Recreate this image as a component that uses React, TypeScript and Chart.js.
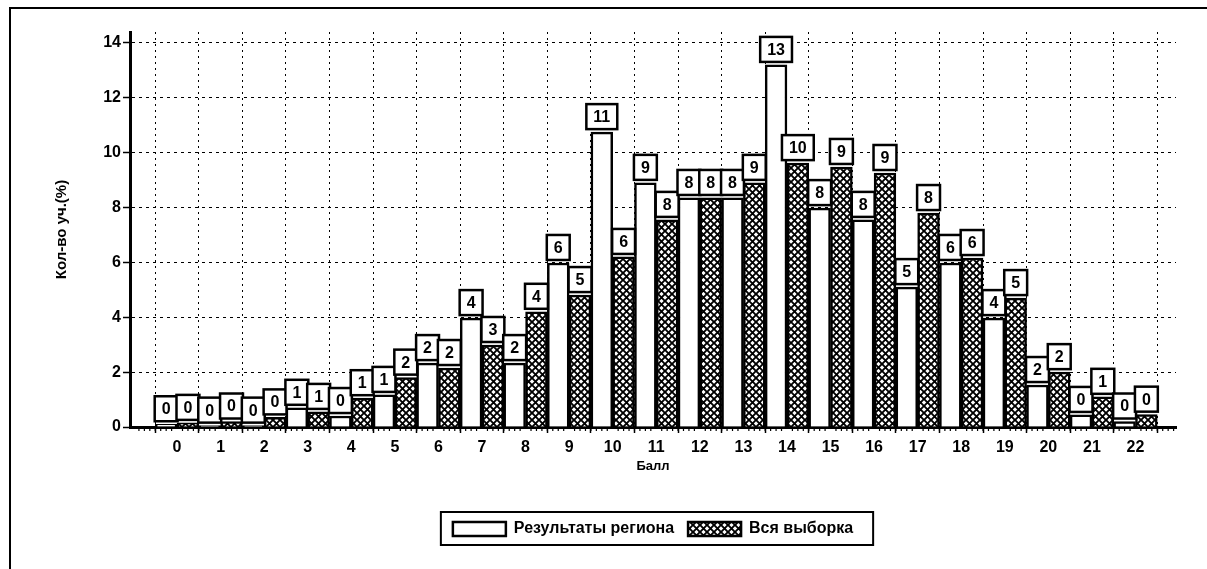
import React, { useEffect, useRef } from 'react';
import { Chart, registerables } from 'chart.js';

Chart.register(...registerables);

// ---- data ----
const categories = [0, 1, 2, 3, 4, 5, 6, 7, 8, 9, 10, 11, 12, 13, 14, 15, 16, 17, 18, 19, 20, 21, 22];
const regionValues = [0.1, 0.05, 0.05, 0.7, 0.4, 1.17, 2.33, 3.97, 2.33, 5.98, 10.75, 8.9, 8.35, 8.35, 13.2, 7.98, 7.55, 5.1, 5.98, 3.97, 1.53, 0.44, 0.2];
const sampleValues = [0.15, 0.2, 0.35, 0.55, 1.05, 1.8, 2.15, 2.99, 4.2, 4.81, 6.2, 7.55, 8.35, 8.9, 9.62, 9.48, 9.26, 7.8, 6.16, 4.7, 2.0, 1.1, 0.45];
const yTicks = [0, 2, 4, 6, 8, 10, 12, 14];
const seriesNames = ['Результаты региона', 'Вся выборка'];
const xTitle = 'Балл';
const yTitle = 'Кол-во уч.(%)';

const SANS = "'Liberation Sans', Arial, sans-serif";

function makeHatch(): CanvasPattern | string {
  const c = document.createElement('canvas');
  c.width = 7;
  c.height = 7;
  const g = c.getContext('2d');
  if (!g) return '#888';
  g.fillStyle = '#fff';
  g.fillRect(0, 0, 7, 7);
  g.strokeStyle = '#000';
  g.lineWidth = 1.9;
  g.beginPath();
  g.moveTo(-1, -1);
  g.lineTo(8, 8);
  g.moveTo(8, -1);
  g.lineTo(-1, 8);
  g.stroke();
  return g.createPattern(c, 'repeat') || '#888';
}

const framePlugin = {
  id: 'pageFrame',
  afterDraw(chart: any) {
    const ctx = chart.ctx;
    ctx.save();
    ctx.strokeStyle = '#000';
    ctx.lineWidth = 2;
    ctx.beginPath();
    ctx.moveTo(10, chart.height);
    ctx.lineTo(10, 8);
    ctx.lineTo(chart.width, 8);
    ctx.stroke();
    ctx.restore();
  },
};

const minorTicksPlugin = {
  id: 'minorTicks',
  afterDraw(chart: any) {
    const xs = chart.scales.x;
    const ctx = chart.ctx;
    const yAxis = chart.chartArea.bottom;
    ctx.save();
    ctx.strokeStyle = '#000';
    ctx.lineWidth = 1.2;
    ctx.beginPath();
    const start = Math.ceil(xs.min * 8);
    const end = Math.floor(xs.max * 8);
    for (let k = start; k <= end; k++) {
      if (k % 8 === 0) continue;
      const px = xs.getPixelForValue(k / 8);
      ctx.moveTo(px, yAxis);
      ctx.lineTo(px, yAxis + 4);
    }
    ctx.stroke();
    ctx.restore();
  },
};

const valueBoxPlugin = {
  id: 'valueBoxes',
  afterDatasetsDraw(chart: any) {
    const ctx = chart.ctx;
    const items: { x: number; y: number; text: string }[] = [];
    chart.data.datasets.forEach((ds: any, di: number) => {
      const meta = chart.getDatasetMeta(di);
      meta.data.forEach((el: any, i: number) => {
        items.push({ x: el.x, y: el.y, text: String(Math.round(ds.data[i].y)) });
      });
    });
    items.sort((a, b) => a.x - b.x);
    ctx.save();
    ctx.font = `bold 16px ${SANS}`;
    ctx.textAlign = 'center';
    ctx.textBaseline = 'middle';
    items.forEach((it) => {
      const w = ctx.measureText(it.text).width + 14;
      const h = 25;
      const bottom = it.y - 3;
      const top = bottom - h;
      ctx.fillStyle = '#fff';
      ctx.fillRect(it.x - w / 2, top, w, h);
      ctx.strokeStyle = '#000';
      ctx.lineWidth = 2.5;
      ctx.strokeRect(it.x - w / 2, top, w, h);
      ctx.fillStyle = '#000';
      ctx.fillText(it.text, it.x, top + h / 2 + 1);
    });
    ctx.restore();
  },
};

const legendFramePlugin = {
  id: 'legendFrame',
  afterDraw(chart: any) {
    const lg = chart.legend;
    if (!lg || !lg.legendHitBoxes || !lg.legendHitBoxes.length) return;
    const hb = lg.legendHitBoxes;
    const left = Math.min(...hb.map((h: any) => h.left)) - 12;
    const right = Math.max(...hb.map((h: any) => h.left + h.width)) + 20;
    const top = Math.min(...hb.map((h: any) => h.top)) - 9;
    const bottom = Math.max(...hb.map((h: any) => h.top + h.height)) + 8;
    const ctx = chart.ctx;
    ctx.save();
    ctx.strokeStyle = '#000';
    ctx.lineWidth = 2;
    ctx.strokeRect(left, top, right - left, bottom - top);
    ctx.restore();
  },
};

export default function App() {
  const ref = useRef<HTMLCanvasElement | null>(null);

  useEffect(() => {
    if (!ref.current) return;
    const hatch = makeHatch();
    const chart = new Chart(ref.current, {
      type: 'bar',
      data: {
        datasets: [
          {
            label: seriesNames[0],
            data: categories.map((c, i) => ({ x: c, y: regionValues[i] })),
            backgroundColor: '#fff',
            borderColor: '#000',
            borderWidth: 2.5,
          },
          {
            label: seriesNames[1],
            data: categories.map((c, i) => ({ x: c, y: sampleValues[i] })),
            backgroundColor: hatch as any,
            borderColor: '#000',
            borderWidth: 2.5,
          },
        ],
      } as any,
      options: {
        responsive: false,
        animation: false,
        layout: { padding: { top: 32, left: 0, right: 31, bottom: 22 } },
        datasets: { bar: { barPercentage: 1, categoryPercentage: 1 } } as any,
        scales: {
          x: {
            type: 'linear',
            min: -1.08,
            max: 22.93,
            offset: false,
            afterBuildTicks: (s: any) => {
              s.ticks = categories.map((v) => ({ value: v }));
            },
            afterFit: (s: any) => {
              s.height = 80;
            },
            grid: {
              color: '#000',
              lineWidth: 1,
              tickLength: 6,
              tickColor: '#000',
              tickWidth: 1.5,
              tickBorderDash: [],
            } as any,
            border: { display: true, color: '#000', width: 3, dash: [2, 4] },
            ticks: {
              color: '#000',
              font: { family: SANS, size: 16, weight: 'bold' },
              padding: 5,
              autoSkip: false,
              maxRotation: 0,
              callback: (v: any) => String(v),
            },
            title: {
              display: true,
              text: xTitle,
              color: '#000',
              font: { family: SANS, size: 13, weight: 'bold' },
              padding: { top: 0, bottom: 33 },
            },
          },
          y: {
            min: 0,
            max: 14.4,
            afterBuildTicks: (s: any) => {
              s.ticks = yTicks.map((v) => ({ value: v }));
            },
            afterFit: (s: any) => {
              s.width = 130;
            },
            grid: {
              color: '#000',
              lineWidth: 1,
              tickLength: 7,
              tickColor: '#000',
              tickWidth: 1.5,
              tickBorderDash: [],
            } as any,
            border: { display: true, color: '#000', width: 3, dash: [3, 4] },
            ticks: {
              color: '#000',
              font: { family: SANS, size: 16, weight: 'bold' },
              padding: 2,
            },
            title: {
              display: true,
              text: yTitle,
              color: '#000',
              font: { family: SANS, size: 15, weight: 'bold' },
              padding: { top: 53, bottom: 0 },
            },
          },
        },
        plugins: {
          legend: {
            display: true,
            position: 'bottom',
            fullSize: false,
            labels: {
              boxWidth: 53,
              boxHeight: 14,
              padding: 14,
              color: '#000',
              font: { family: SANS, size: 16, weight: 'bold' },
            },
          },
          tooltip: { enabled: false },
        },
      } as any,
      plugins: [framePlugin, minorTicksPlugin, valueBoxPlugin, legendFramePlugin],
    });
    return () => chart.destroy();
  }, []);

  return (
    <div style={{ position: 'absolute', left: 0, top: 0, width: 1207, height: 569, background: '#fff' }}>
      <canvas ref={ref} width={1207} height={569} style={{ display: 'block' }} />
    </div>
  );
}
